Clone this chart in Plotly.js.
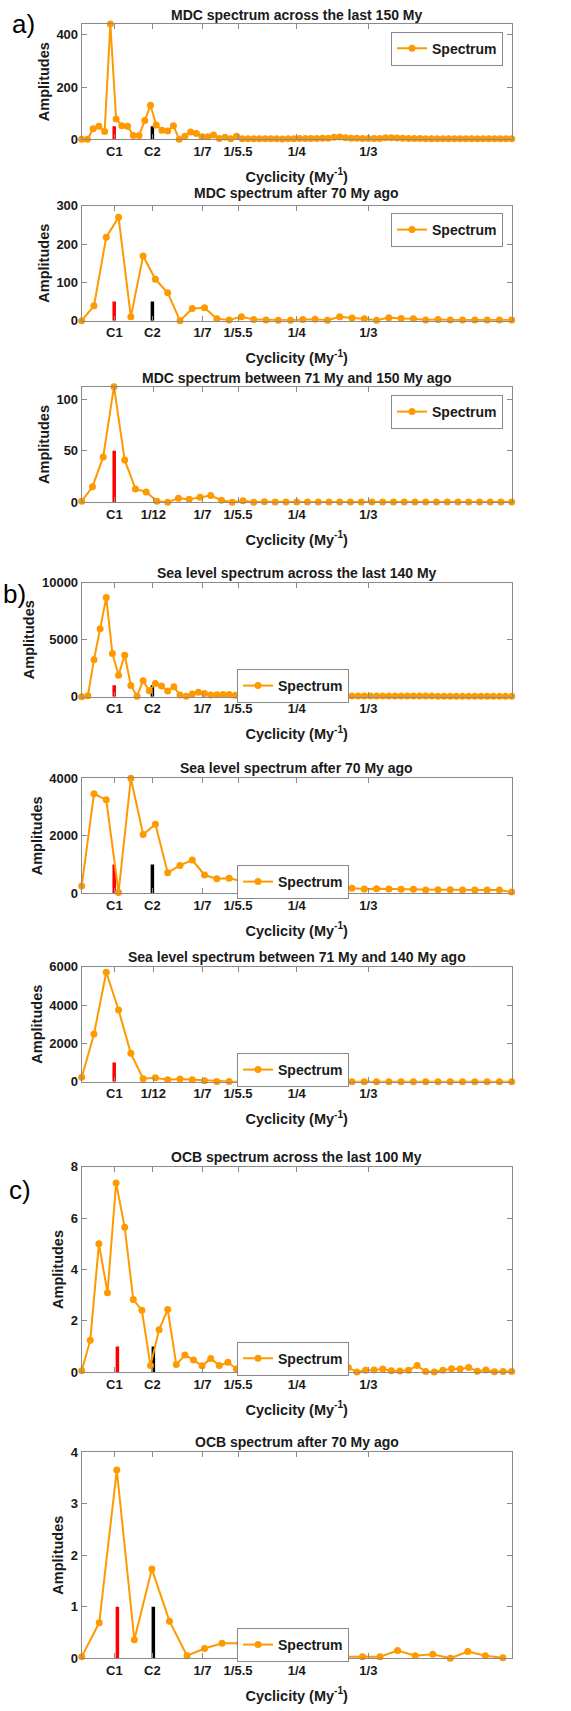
<!DOCTYPE html>
<html><head><meta charset="utf-8">
<script src="https://cdn.plot.ly/plotly-3.0.1.min.js"></script>
<style>html,body{margin:0;padding:0;background:#fff}</style>
</head><body><div id="chart" style="width:571px;height:1711px"></div>
<script>
// ---------- data (amplitudes) ----------
const mdc150 = [0,0,40,50,30,441,78,52,50,15, 15,72,130,55,35,32,52,0,12,28, 22,10,10,16,3,8,2,12,2,2, 2,2,2,2,2,1,2,2,3,3, 3,3,4,4,8,9,6,4,4,3, 3,3,3,6,6,5,4,3,3,3, 2,2,2,2,2,2,2,2,2,2, 2,2,2,2,2,2];
const mdc70 = [0,39,218,270,10,169,108,73,0,32, 34,5,2,10,3,2,1,1,3,4, 1,10,7,5,1,8,6,5,2,3, 2,2,2,2,2,2];
const mdc71_150 = [1,15,44,112,41,13,10,1,0,4, 3,5,6.5,2,0,1.5,0,0.5,0.3,0.3, 0.4,0.3,0.3,0.3,0.3,0.4,0.3,0.3,0.3,0.3, 0.3,0.3,0.3,0.3,0.3,0.3,0.3,0.3,0.3,0.3, 0.3];
const sea140 = [0,80,3250,5960,8700,3780,1890,3630,990,50, 1400,520,1160,930,500,870,150,50,230,380, 290,150,170,200,200,120,110,100,100,100, 100,90,90,90,90,90,80,80,80,80, 80,80,70,70,70,70,70,70,70,60, 60,60,60,60,60,60,60,60,50,50, 50,50,50,50,50,50,50,50,50,50, 50];
const sea70 = [254,3460,3250,30,4000,2046,2404,717,971,1156, 636,509,520,428,300,231,208,197,197,185, 173,162,173,150,162,150,139,139,116,127, 127,116,116,116,116,46];
const sea71_140 = [226,2487,5708,3739,1478,157,209,104,139,104, 52,10,5,3,3,3,3,3,3,3, 3,3,3,3,3,3,3,3,3,3, 3,3,3,3,3,3];
const ocb100 = [0.06,1.25,5.0,3.1,7.37,5.64,2.83,2.41,0.26,1.66, 2.44,0.30,0.67,0.48,0.25,0.54,0.26,0.39,0.13,1.0, 0.05,0.06,0.22,0.19,0.4,0.13,0.45,0.1,0.09,0.3, 0.14,0.19,0.01,0.08,0.09,0.13,0.06,0.05,0.08,0.26, 0.03,0.01,0.08,0.14,0.13,0.19,0.04,0.09,0.02,0.03, 0.03];
const ocb70 = [0.03,0.69,3.65,0.36,1.73,0.72,0.05,0.19,0.29,0.29, 0.12,0.0,0.22,0.25,0.09,0.03,0.03,0.03,0.15,0.05, 0.08,0.0,0.13,0.05,0.01];

// record lengths (My) giving the frequency spacing 1/N of each spectrum
const recordLengths = [150, 70, 80, 140, 70, 70, 100, 49];

const titles = [
  'MDC spectrum across the last 150 My',
  'MDC spectrum after 70 My ago',
  'MDC spectrum between 71 My and 150 My ago',
  'Sea level spectrum across the last 140 My',
  'Sea level spectrum after 70 My ago',
  'Sea level spectrum between 71 My and 140 My ago',
  'OCB spectrum across the last 100 My',
  'OCB spectrum after 70 My ago'
];
const series = [mdc150, mdc70, mdc71_150, sea140, sea70, sea71_140, ocb100, ocb70];

// cycle marker bars (C1 red, C2 black)
const c1Freq = [0.0378, 0.0378, 0.0378, 0.0378, 0.0378, 0.0378, 0.0415, 0.0415];
const c2Freq = [0.0822, 0.0822, null, 0.0822, 0.0822, null, 0.0833, 0.0833];
const barHeight = [50, 50, 50, 1000, 1000, 1000, 1, 1];

// axes
const yMax = [441, 300, 112, 10000, 4000, 6000, 8, 4];
const yDtick = [200, 100, 50, 5000, 2000, 2000, 2, 1];
const tickValsA = [0.038, 0.0822, 0.1405, 0.1818, 0.25, 0.3333];
const tickTextA = ['C1', 'C2', '1/7', '1/5.5', '1/4', '1/3'];
const tickValsB = [0.038, 0.0833, 0.1405, 0.1818, 0.25, 0.3333];
const tickTextB = ['C1', '1/12', '1/7', '1/5.5', '1/4', '1/3'];
const useTicksB = [false, false, true, false, false, true, false, false];
const panelLetters = [{t:'a)', y:24, x:10}, {t:'b)', y:594, x:1}, {t:'c)', y:1190, x:7}];

// ---------- geometry (pixels) ----------
const W = 571, H = 1711;
const plotLeft = 81.7, plotRight = 511.7;
const tops = [24, 205.7, 386.7, 582.7, 778.3, 966.7, 1166.7, 1452];
const bottoms = [139.3, 320.7, 502.3, 696.7, 893.3, 1081.7, 1372.3, 1658.3];
const titleY = [15, 193.3, 377.7, 572.7, 768.3, 956.7, 1156.7, 1442.3];
const legendRight = [503, 503, 503, 349, 349, 349, 349, 349];
const legendTop = [31.7, 213, 395, 669, 865, 1053, 1341.7, 1628];

const FONT = '"Liberation Sans", Arial, Helvetica, sans-serif';
const ORANGE = '#FF9900';
const AXC = '#8a8a8a';
const TXT = '#1a1a1a';

const traces = [];
const layout = {
  width: W, height: H,
  margin: {l: 0, r: 0, t: 0, b: 0},
  paper_bgcolor: '#fff', plot_bgcolor: '#fff',
  font: {family: FONT, color: TXT},
  showlegend: true,
  annotations: []
};

const px2x = p => p / W;
const px2y = p => 1 - p / H;

series.forEach((vals, i) => {
  const n = i + 1;
  const xs = 'x' + (n === 1 ? '' : n), ys = 'y' + (n === 1 ? '' : n);
  const legKey = 'legend' + (n === 1 ? '' : n);
  const freqs = vals.map((_, k) => k / recordLengths[i]);

  // C1 marker (red)
  traces.push({type: 'scatter', mode: 'lines', x: [c1Freq[i], c1Freq[i]], y: [0, barHeight[i]],
    xaxis: xs, yaxis: ys, line: {color: '#ff0000', width: 3.5}, showlegend: false, hoverinfo: 'skip'});
  // C2 marker (black)
  if (c2Freq[i] !== null) {
    traces.push({type: 'scatter', mode: 'lines', x: [c2Freq[i], c2Freq[i]], y: [0, barHeight[i]],
      xaxis: xs, yaxis: ys, line: {color: '#000000', width: 3.5}, showlegend: false, hoverinfo: 'skip'});
  }
  // spectrum
  traces.push({type: 'scatter', mode: 'lines+markers', name: 'Spectrum', x: freqs, y: vals,
    xaxis: xs, yaxis: ys, legend: legKey, cliponaxis: false,
    line: {color: ORANGE, width: 2}, marker: {color: ORANGE, size: 7}});

  const tb = useTicksB[i];
  layout['xaxis' + (n === 1 ? '' : n)] = {
    domain: [px2x(plotLeft), px2x(plotRight)], anchor: ys, range: [0, 0.5],
    tickmode: 'array', tickvals: tb ? tickValsB : tickValsA, ticktext: tb ? tickTextB : tickTextA,
    ticks: 'inside', ticklen: 5, tickcolor: AXC, showline: true, linecolor: AXC, linewidth: 1,
    mirror: 'ticks', showgrid: false, zeroline: false, fixedrange: true,
    tickfont: {family: FONT, size: 13, weight: 'bold', color: TXT},
    title: {text: 'Cyclicity (My<sup>-1</sup>)', standoff: 13,
      font: {family: FONT, size: 14.5, weight: 'bold', color: TXT}}
  };
  layout['yaxis' + (n === 1 ? '' : n)] = {
    domain: [px2y(bottoms[i]), px2y(tops[i])], anchor: xs, range: [0, yMax[i]],
    tick0: 0, dtick: yDtick[i], tickformat: 'd', exponentformat: 'none',
    ticks: 'inside', ticklen: 5, tickcolor: AXC, showline: true, linecolor: AXC, linewidth: 1,
    mirror: 'ticks', showgrid: false, zeroline: false, fixedrange: true,
    tickfont: {family: FONT, size: 13, weight: 'bold', color: TXT},
    title: {text: 'Amplitudes', standoff: 3,
      font: {family: FONT, size: 14.5, weight: 'bold', color: TXT}}
  };
  layout[legKey] = {
    x: px2x(legendRight[i]), xanchor: 'right', y: px2y(legendTop[i]), yanchor: 'top',
    bgcolor: '#ffffff', bordercolor: AXC, borderwidth: 1, itemwidth: 30,
    font: {family: FONT, size: 14, weight: 'bold', color: TXT}
  };
  layout.annotations.push({
    xref: 'paper', yref: 'paper', x: px2x((plotLeft + plotRight) / 2), y: px2y(titleY[i]),
    xanchor: 'center', yanchor: 'middle', showarrow: false, text: titles[i],
    font: {family: FONT, size: 14, weight: 'bold', color: TXT}
  });
});

panelLetters.forEach(p => {
  layout.annotations.push({
    xref: 'paper', yref: 'paper', x: px2x(p.x), y: px2y(p.y), xanchor: 'left', yanchor: 'middle',
    showarrow: false, text: p.t, font: {family: FONT, size: 26, color: '#000'}
  });
});

Plotly.newPlot('chart', traces, layout, {displayModeBar: false, staticPlot: true});
</script></body></html>
